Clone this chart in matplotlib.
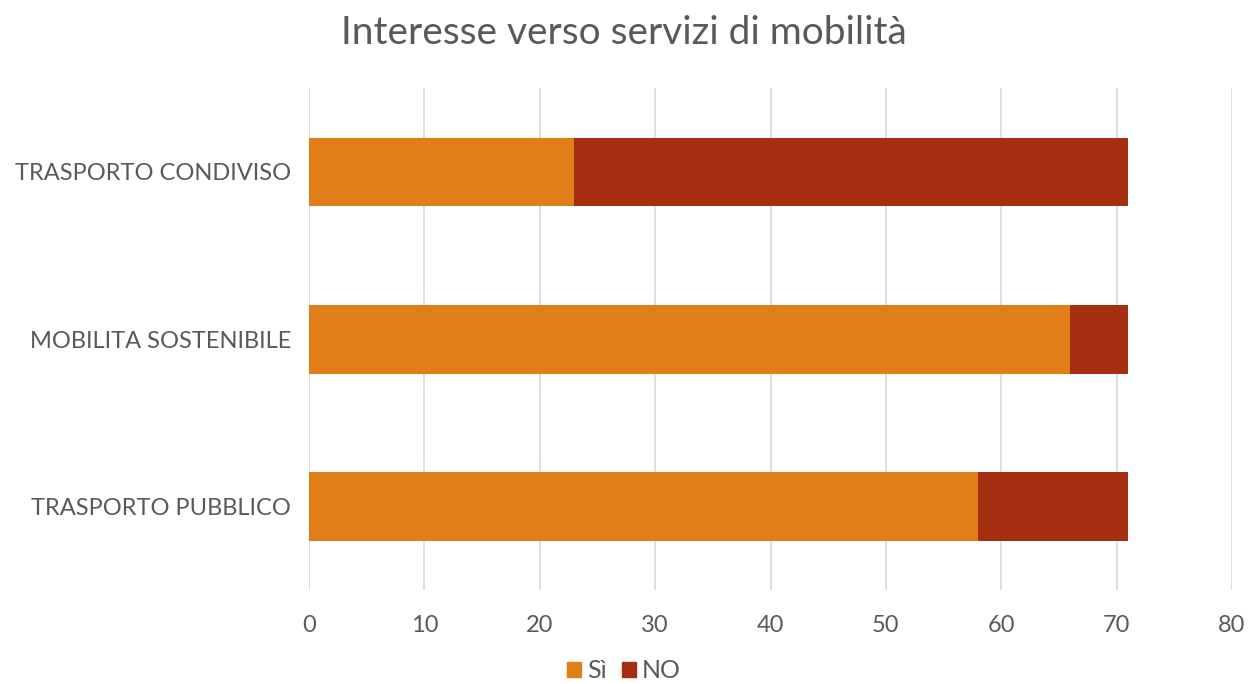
import matplotlib.pyplot as plt
from matplotlib.patches import Patch

categories = ["TRASPORTO PUBBLICO", "MOBILITA SOSTENIBILE", "TRASPORTO CONDIVISO"]
si_values = [58, 66, 23]
no_values = [13, 5, 48]
x_ticks = [0, 10, 20, 30, 40, 50, 60, 70, 80]

SI_COLOR = "#E07F1A"
NO_COLOR = "#A52F10"
TEXT_COLOR = "#595959"

plt.rcParams["font.family"] = ["Lato", "DejaVu Sans"]

fig = plt.figure(figsize=(12.48, 6.84), dpi=100)
ax = fig.add_axes([0.2476, 0.137, 0.7396, 0.734])

y = list(range(len(categories)))
ax.barh(y, si_values, height=0.41, color=SI_COLOR, zorder=3)
ax.barh(y, no_values, left=si_values, height=0.41, color=NO_COLOR, zorder=3)

ax.set_xlim(0, 80)
ax.set_ylim(-0.5, 2.5)
ax.set_xticks(x_ticks)
ax.set_yticks(y)
ax.set_yticklabels(categories)
ax.grid(axis="x", color="#D9D9D9", linewidth=1.2, zorder=0)
for s in ax.spines.values():
    s.set_visible(False)
ax.tick_params(axis="both", length=0, colors=TEXT_COLOR)
ax.tick_params(axis="x", pad=18, labelsize=17)
ax.tick_params(axis="y", pad=13, labelsize=17)

fig.suptitle("Interesse verso servizi di mobilità", y=0.978, fontsize=28,
             color=TEXT_COLOR)

handles = [Patch(color=SI_COLOR, label="Sì"), Patch(color=NO_COLOR, label="NO")]
fig.legend(handles=handles, loc="lower center", bbox_to_anchor=(0.5, -0.03),
           ncol=2, frameon=False, fontsize=18, handlelength=0.55,
           handleheight=0.55, handletextpad=0.25, columnspacing=0.6,
           labelcolor=TEXT_COLOR)

fig.savefig("out.png", dpi=100)
